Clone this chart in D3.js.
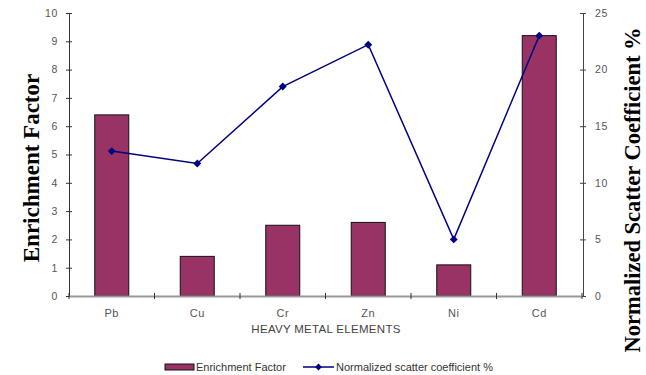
<!DOCTYPE html>
<html>
<head>
<meta charset="utf-8">
<script src="https://cdn.jsdelivr.net/npm/d3@7"></script>
<style>
  html, body { margin: 0; padding: 0; background: #fff; }
  svg { display: block; }
  .tick text { font-family: "Liberation Sans", Arial, sans-serif; fill: #555; }
</style>
</head>
<body>
<svg id="chart" width="646" height="375"></svg>
<script>
// Heavy metal elements and their two measures
const elements = ["Pb", "Cu", "Cr", "Zn", "Ni", "Cd"];
const enrichmentFactor = [6.4, 1.4, 2.5, 2.6, 1.1, 9.2];
const scatterCoefficient = [12.8, 11.7, 18.5, 22.2, 5.0, 23.0];
const leftTicks = [0, 1, 2, 3, 4, 5, 6, 7, 8, 9, 10];
const rightTicks = [0, 5, 10, 15, 20, 25];

const svg = d3.select("#chart");
const plot = { left: 69, right: 582, top: 13, bottom: 296 };

const xBand = d3.scaleBand().domain(elements).range([plot.left, plot.right]);
const yLeft = d3.scaleLinear().domain([0, 10]).range([plot.bottom, plot.top]);
const yRight = d3.scaleLinear().domain([0, 25]).range([plot.bottom, plot.top]);

// bars
svg.append("g").selectAll("rect")
  .data(elements)
  .join("rect")
  .attr("x", (d) => xBand(d) + xBand.bandwidth() / 2 - 17)
  .attr("width", 34)
  .attr("y", (d, i) => yLeft(enrichmentFactor[i]))
  .attr("height", (d, i) => plot.bottom - yLeft(enrichmentFactor[i]))
  .attr("fill", "#993366")
  .attr("stroke", "#111")
  .attr("stroke-width", 1);

// left axis
const gl = svg.append("g").attr("transform", `translate(${plot.left},0)`)
  .call(d3.axisLeft(yLeft).tickValues(leftTicks).tickSize(0).tickPadding(11));
gl.select(".domain").attr("stroke", "#333");
gl.selectAll(".tick line").attr("x1", -3).attr("x2", 3).attr("stroke", "#333");
gl.selectAll(".tick text").attr("font-size", 10.5).attr("letter-spacing", 0.6);

// right axis
const gr = svg.append("g").attr("transform", `translate(${plot.right + 1},0)`)
  .call(d3.axisRight(yRight).tickValues(rightTicks).tickSize(0).tickPadding(12));
gr.select(".domain").attr("stroke", "#444");
gr.selectAll(".tick line").attr("x1", -3).attr("x2", 3).attr("stroke", "#444");
gr.selectAll(".tick text").attr("font-size", 10.5).attr("letter-spacing", 0.6);

// bottom axis
const gb = svg.append("g").attr("transform", `translate(0,${plot.bottom})`)
  .call(d3.axisBottom(xBand).tickSize(0).tickPadding(13));
gb.select(".domain").attr("stroke", "#999").attr("stroke-width", 2);
gb.selectAll(".tick line").remove();
gb.selectAll(".tick text").attr("font-size", 11).attr("letter-spacing", 0.5);
// category separators
svg.append("g").selectAll("line")
  .data(elements.concat(["end"]))
  .join("line")
  .attr("x1", (d, i) => plot.left + i * xBand.bandwidth())
  .attr("x2", (d, i) => plot.left + i * xBand.bandwidth())
  .attr("y1", plot.bottom - 3)
  .attr("y2", plot.bottom + 3)
  .attr("stroke", "#333");

// scatter coefficient line
const pts = elements.map((d, i) => [xBand(d) + xBand.bandwidth() / 2, yRight(scatterCoefficient[i])]);
svg.append("path")
  .attr("d", d3.line()(pts))
  .attr("fill", "none")
  .attr("stroke", "#000080")
  .attr("stroke-width", 1.5);
svg.append("g").selectAll("path")
  .data(pts)
  .join("path")
  .attr("d", d3.symbol(d3.symbolDiamond2, 40))
  .attr("transform", (p) => `translate(${p[0]},${p[1]})`)
  .attr("fill", "#000080");

// axis titles
svg.append("text")
  .attr("transform", "translate(39,168) rotate(-90)")
  .attr("text-anchor", "middle")
  .attr("font-family", "'Liberation Serif', 'Times New Roman', serif")
  .attr("font-weight", "bold")
  .attr("font-size", 23)
  .text("Enrichment Factor");
svg.append("text")
  .attr("transform", "translate(640,190) rotate(-90)")
  .attr("text-anchor", "middle")
  .attr("font-family", "'Liberation Serif', 'Times New Roman', serif")
  .attr("font-weight", "bold")
  .attr("font-size", 22.5)
  .text("Normalized Scatter Coefficient %");
svg.append("text")
  .attr("x", 326).attr("y", 333)
  .attr("text-anchor", "middle")
  .attr("font-family", "'Liberation Sans', Arial, sans-serif")
  .attr("font-size", 11.5)
  .attr("fill", "#444")
  .attr("letter-spacing", 0.3)
  .text("HEAVY METAL ELEMENTS");

// legend
const lg = svg.append("g").attr("font-family", "'Liberation Sans', Arial, sans-serif").attr("font-size", 11).attr("fill", "#333");
lg.append("rect").attr("x", 165).attr("y", 364).attr("width", 29).attr("height", 6)
  .attr("fill", "#993366").attr("stroke", "#111");
lg.append("text").attr("x", 196).attr("y", 371).text("Enrichment Factor");
lg.append("line").attr("x1", 303).attr("x2", 334).attr("y1", 367).attr("y2", 367)
  .attr("stroke", "#000080").attr("stroke-width", 1.5);
lg.append("path").attr("d", d3.symbol(d3.symbolDiamond2, 30)).attr("transform", "translate(318.5,367)").attr("fill", "#000080");
lg.append("text").attr("x", 336).attr("y", 371).text("Normalized scatter coefficient %");
</script>
</body>
</html>
